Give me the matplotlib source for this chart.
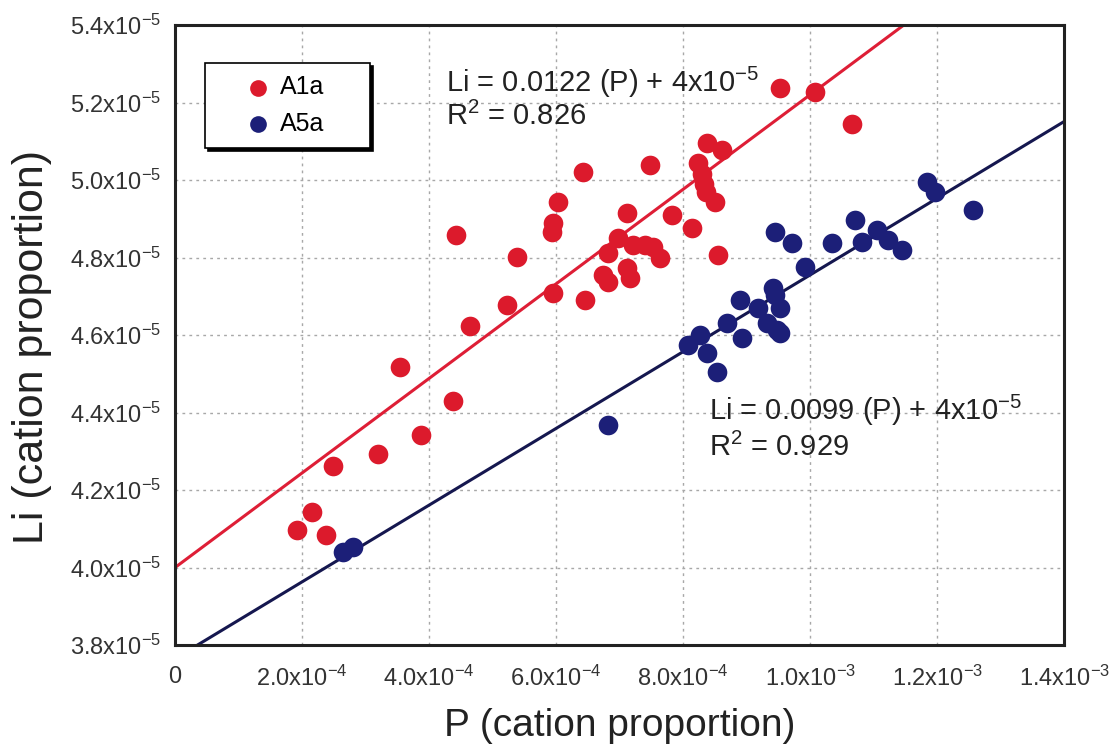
import matplotlib
matplotlib.use("Agg")
import matplotlib.pyplot as plt
import numpy as np

plt.rcParams["font.family"] = ["Liberation Sans", "DejaVu Sans"]
plt.rcParams["mathtext.default"] = "regular"

# ---- data (P and Li in cation proportion) ----
a1a_p = [1.92e-4, 2.16e-4, 2.38e-4, 2.49e-4, 3.20e-4, 3.54e-4, 3.87e-4, 4.38e-4,
         4.43e-4, 4.65e-4, 5.23e-4, 5.39e-4, 5.95e-4, 5.94e-4, 5.95e-4, 6.03e-4,
         6.43e-4, 6.46e-4, 6.74e-4, 6.82e-4, 6.82e-4, 6.98e-4, 7.12e-4, 7.12e-4,
         7.17e-4, 7.21e-4, 7.40e-4, 7.53e-4, 7.48e-4, 7.64e-4, 7.83e-4, 8.14e-4,
         8.24e-4, 8.29e-4, 8.33e-4, 8.36e-4, 8.38e-4, 8.50e-4, 8.55e-4, 8.61e-4,
         9.53e-4, 1.008e-3, 1.066e-3]
a1a_li = [4.097e-5, 4.143e-5, 4.084e-5, 4.262e-5, 4.293e-5, 4.517e-5, 4.342e-5, 4.430e-5,
          4.858e-5, 4.623e-5, 4.677e-5, 4.801e-5, 4.708e-5, 4.866e-5, 4.889e-5, 4.943e-5,
          5.021e-5, 4.690e-5, 4.755e-5, 4.737e-5, 4.812e-5, 4.850e-5, 4.915e-5, 4.773e-5,
          4.747e-5, 4.832e-5, 4.832e-5, 4.827e-5, 5.039e-5, 4.799e-5, 4.910e-5, 4.876e-5,
          5.044e-5, 5.015e-5, 4.990e-5, 4.970e-5, 5.095e-5, 4.943e-5, 4.806e-5, 5.077e-5,
          5.237e-5, 5.227e-5, 5.145e-5]

a5a_p = [2.65e-4, 2.80e-4, 6.82e-4, 8.08e-4, 8.27e-4, 8.38e-4, 8.54e-4, 8.69e-4,
         8.93e-4, 8.90e-4, 9.18e-4, 9.32e-4, 9.48e-4, 9.53e-4, 9.42e-4, 9.45e-4,
         9.53e-4, 9.92e-4, 9.45e-4, 9.72e-4, 1.035e-3, 1.071e-3, 1.082e-3, 1.106e-3,
         1.123e-3, 1.145e-3, 1.184e-3, 1.197e-3, 1.257e-3]
a5a_li = [4.040e-5, 4.053e-5, 4.368e-5, 4.574e-5, 4.600e-5, 4.554e-5, 4.505e-5, 4.631e-5,
          4.592e-5, 4.690e-5, 4.670e-5, 4.631e-5, 4.613e-5, 4.605e-5, 4.721e-5, 4.703e-5,
          4.670e-5, 4.776e-5, 4.866e-5, 4.837e-5, 4.837e-5, 4.897e-5, 4.840e-5, 4.871e-5,
          4.845e-5, 4.819e-5, 4.995e-5, 4.969e-5, 4.923e-5]

# regression lines (slope, intercept)
a1a_fit = (0.0122, 4.0e-5)
a5a_fit = (0.0099, 3.765e-5)

x_ticks = [0, 2e-4, 4e-4, 6e-4, 8e-4, 1.0e-3, 1.2e-3, 1.4e-3]
x_labels = ["0", "2.0x10$^{-4}$", "4.0x10$^{-4}$", "6.0x10$^{-4}$", "8.0x10$^{-4}$",
            "1.0x10$^{-3}$", "1.2x10$^{-3}$", "1.4x10$^{-3}$"]
y_ticks = [3.8e-5, 4.0e-5, 4.2e-5, 4.4e-5, 4.6e-5, 4.8e-5, 5.0e-5, 5.2e-5, 5.4e-5]
y_labels = ["3.8x10$^{-5}$", "4.0x10$^{-5}$", "4.2x10$^{-5}$", "4.4x10$^{-5}$",
            "4.6x10$^{-5}$", "4.8x10$^{-5}$", "5.0x10$^{-5}$", "5.2x10$^{-5}$",
            "5.4x10$^{-5}$"]

RED = "#DC1A2C"
BLUE = "#1C1F78"
RED_LINE = "#DE1E36"
BLUE_LINE = "#15174F"

fig = plt.figure(figsize=(11.1, 7.51), dpi=100)
ax = fig.add_axes([0.1577, 0.1411, 0.801, 0.8256])

xl = np.array([0, 1.4e-3])
ax.plot(xl, a1a_fit[0] * xl + a1a_fit[1], color=RED_LINE, lw=2.2, zorder=2)
ax.plot(xl, a5a_fit[0] * xl + a5a_fit[1], color=BLUE_LINE, lw=2.2, zorder=2)

ax.scatter(a1a_p, a1a_li, s=200, color=RED, label="A1a", zorder=3, linewidths=0)
ax.scatter(a5a_p, a5a_li, s=200, color=BLUE, label="A5a", zorder=3, linewidths=0)

ax.set_xlim(0, 1.4e-3)
ax.set_ylim(3.8e-5, 5.4e-5)
ax.set_xticks(x_ticks)
ax.set_xticklabels(x_labels, fontsize=17, color="#333333")
ax.set_yticks(y_ticks)
ax.set_yticklabels(y_labels, fontsize=17, color="#333333")
ax.tick_params(length=0)
ax.tick_params(axis="x", pad=15)
ax.tick_params(axis="y", pad=10)
ax.grid(True, color="#a8a8a8", linestyle=(0, (2, 3)), linewidth=1.0)
ax.set_axisbelow(True)
for sp in ax.spines.values():
    sp.set_linewidth(2.2)
    sp.set_color("#222222")

ax.set_xlabel("P (cation proportion)", fontsize=28, color="#222222", labelpad=12)
ax.set_ylabel("Li (cation proportion)", fontsize=31, color="#222222")
ax.yaxis.set_label_coords(-0.138, 0.48)

ax.text(0.305, 0.908, "Li = 0.0122 (P) + 4x10$^{-5}$", transform=ax.transAxes,
        fontsize=21, va="center", color="#222222")
ax.text(0.305, 0.852, "R$^2$ = 0.826", transform=ax.transAxes,
        fontsize=21, va="center", color="#222222")
ax.text(0.600, 0.379, "Li = 0.0099 (P) + 4x10$^{-5}$", transform=ax.transAxes,
        fontsize=21, va="center", color="#222222")
ax.text(0.600, 0.319, "R$^2$ = 0.929", transform=ax.transAxes,
        fontsize=21, va="center", color="#222222")

leg = ax.legend(loc="upper left", bbox_to_anchor=(0.0337, 0.802, 0.1856, 0.137),
                mode="expand", borderaxespad=0, fontsize=18, fancybox=False,
                frameon=True, edgecolor="black",
                shadow={"color": "black", "alpha": 1}, handletextpad=-0.7,
                borderpad=0.5, labelspacing=0.5, handlelength=3.2,
                markerscale=0.85)
leg.get_frame().set_linewidth(1.2)

fig.savefig("out.png", dpi=100)
